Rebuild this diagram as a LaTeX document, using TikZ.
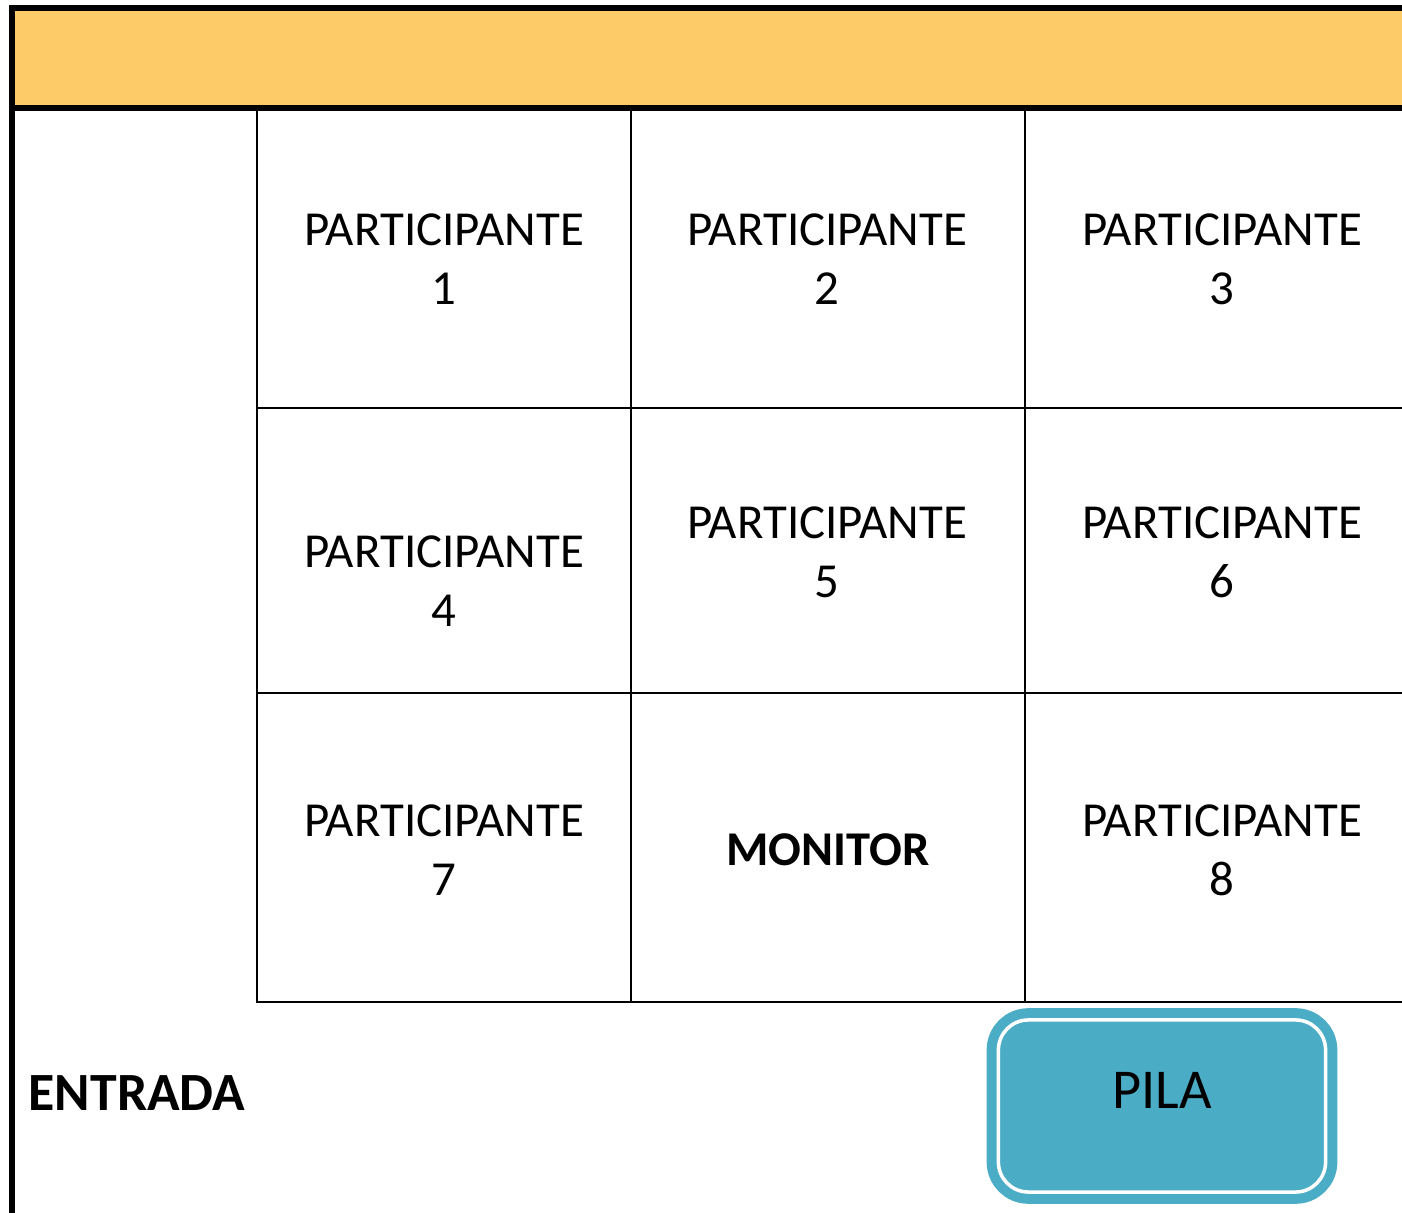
\documentclass[tikz,border=0pt]{standalone}
\usepackage{fontspec}
\setmainfont{Carlito}
\usepackage{tikz}
\definecolor{banda}{RGB}{253,204,104}
\definecolor{pilacolor}{RGB}{75,172,198}

\begin{document}
\begin{tikzpicture}[
                    x=0.01cm, y=-0.01cm,
                    every node/.style={
                        align=center,
                        inner sep=0pt,
                        font=\fontsize{13.9}{16.8}\selectfont
                    },
                    grueso/.style={line width=1.7pt},
                    fino/.style={line width=0.6pt}
                ]
                    \useasboundingbox (0,0) rectangle (1402,1213);

                    % Banda superior
                    \fill[banda] (12,8) rectangle (1402,108);
                    \draw[grueso] (1402,8) -- (12,8) -- (12,1213);
                    \draw[grueso] (12,108) -- (1402,108);

                    % Rejilla
                    \draw[fino] (257,108) -- (257,1002) -- (1402,1002);
                    \draw[fino] (631,108) -- (631,1002);
                    \draw[fino] (1025,108) -- (1025,1002);
                    \draw[fino] (257,408) -- (1402,408);
                    \draw[fino] (257,693) -- (1402,693);

                    \node (p1) at (444,259) {PARTICIPANTE\\1};
                    \node (p2) at (827,259) {PARTICIPANTE\\2};
                    \node (p3) at (1222,259) {PARTICIPANTE\\3};
                    \node (p4) at (444,581) {PARTICIPANTE\\4};
                    \node (p5) at (827,552) {PARTICIPANTE\\5};
                    \node (p6) at (1222,552) {PARTICIPANTE\\6};
                    \node (p7) at (444,850) {PARTICIPANTE\\7};
                    \node[font=\fontsize{13.8}{16.8}\selectfont\bfseries] (mon) at (828,850) {MONITOR};
                    \node (p8) at (1222,850) {PARTICIPANTE\\8};

                    \node[anchor=west, font=\fontsize{15.3}{18}\selectfont\bfseries] (entrada) at (28,1093) {ENTRADA};

                    \node[draw=pilacolor, fill=pilacolor, line width=0.1cm,
                          double=white, double distance=1pt, rounded corners=0.3cm,
                          minimum width=3.27cm, minimum height=1.72cm,
                          text height=0.38cm, text depth=0.33cm,
                          font=\fontsize{16}{19}\selectfont] (pila) at (1162,1106) {PILA};
                \end{tikzpicture}
\end{document}
